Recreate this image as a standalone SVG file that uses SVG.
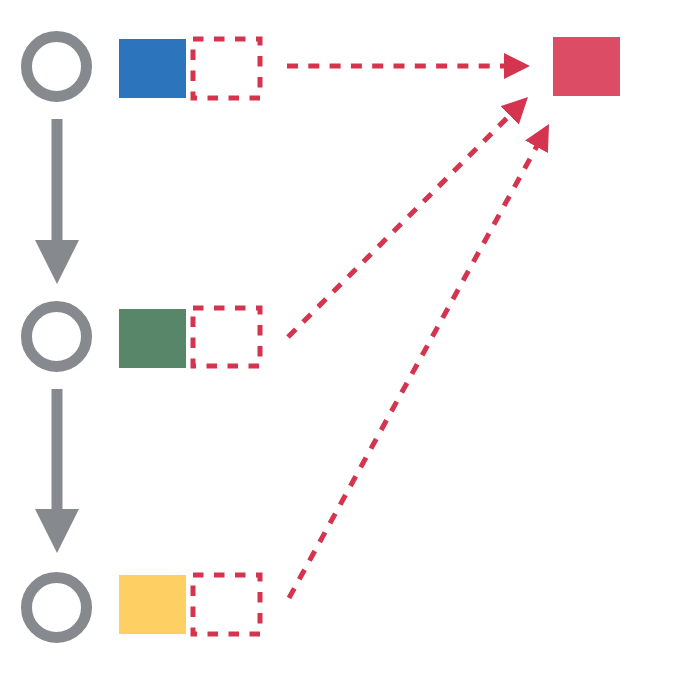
<svg xmlns="http://www.w3.org/2000/svg" width="689" height="676" viewBox="0 0 689 676">
<style>
.state{fill:none;stroke:#86898e;stroke-width:11}
.slot{fill:none;stroke:#d5344f;stroke-width:5;stroke-dasharray:10.5 10.5}
.flow{stroke:#86898e;stroke-width:11;fill:none}
.ref{stroke:#d5344f;stroke-width:5;stroke-dasharray:11 10.3;fill:none}
</style>
<defs>
<marker id="grayhead" markerUnits="userSpaceOnUse" markerWidth="44" markerHeight="44" viewBox="0 0 44 44" refX="0" refY="22" orient="auto">
<path d="M0,0 L44,22 L0,44 Z" fill="#86898e"/>
</marker>
<marker id="redhead" markerUnits="userSpaceOnUse" markerWidth="26" markerHeight="26" viewBox="0 0 26 26" refX="13" refY="13" orient="auto">
<path d="M0,0 L26,13 L0,26 Z" fill="#d5344f"/>
</marker>
</defs>
<rect width="689" height="676" fill="#ffffff"/>
<g id="row1">
<circle class="state" cx="56.5" cy="66.5" r="30"/>
<rect x="119" y="39" width="67" height="59" fill="#2c74bb"/>
<rect class="slot" x="193" y="39" width="67" height="59"/>
</g>
<g id="row2">
<circle class="state" cx="56.5" cy="336.5" r="30"/>
<rect x="119" y="309" width="67" height="59" fill="#578669"/>
<rect class="slot" x="193" y="308" width="67" height="58"/>
</g>
<g id="row3">
<circle class="state" cx="56.5" cy="607.5" r="30"/>
<rect x="119" y="575" width="67" height="59" fill="#fed064"/>
<rect class="slot" x="193" y="575" width="67" height="59"/>
</g>
<g id="target">
<rect x="553" y="37" width="67" height="59" fill="#dc4c64"/>
</g>
<g id="connectors">
<line class="flow" x1="57" y1="119" x2="57" y2="240" marker-end="url(#grayhead)"/>
<line class="flow" x1="57" y1="389" x2="57" y2="509" marker-end="url(#grayhead)"/>
<line class="ref" x1="287" y1="66" x2="517" y2="66" marker-end="url(#redhead)"/>
<line class="ref" x1="288" y1="337" x2="518.8" y2="106.2" marker-end="url(#redhead)"/>
<line class="ref" x1="289" y1="598" x2="542.75" y2="135.4" marker-end="url(#redhead)"/>
</g>
</svg>
